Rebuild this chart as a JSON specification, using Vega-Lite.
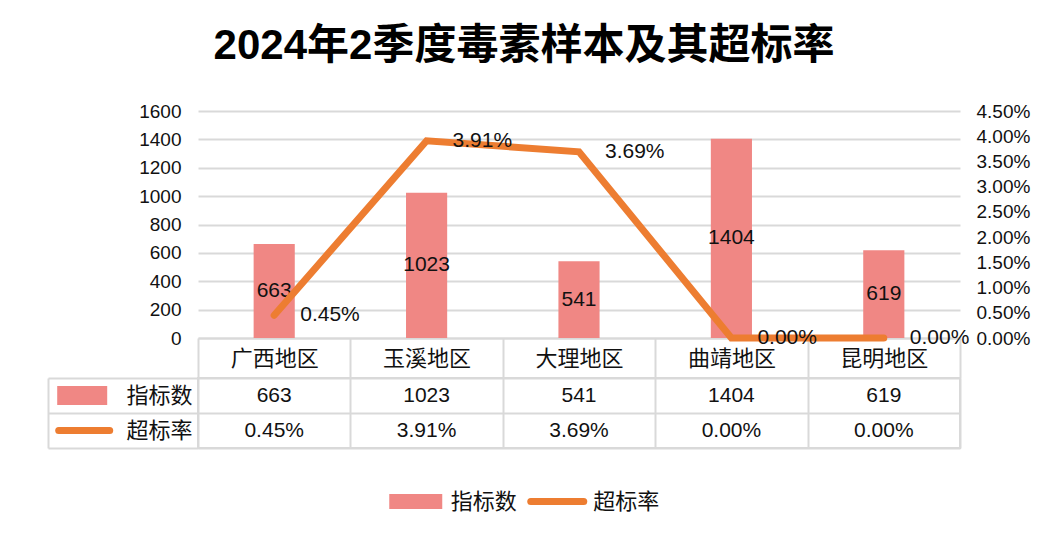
{
  "$schema": "https://vega.github.io/schema/vega-lite/v6.json",
  "background": "white",
  "padding": {"left": 43, "top": 25, "right": 10, "bottom": 10},
  "title": {
    "text": "2024年2季度毒素样本及其超标率",
    "fontSize": 42,
    "fontWeight": "bold",
    "font": "Liberation Sans, Noto Sans CJK SC",
    "color": "#000000",
    "anchor": "middle",
    "frame": "group",
    "dx": -55,
    "offset": 34
  },
  "config": {
    "view": {"stroke": null},
    "font": "Liberation Sans, Noto Sans CJK SC",
    "text": {"font": "Liberation Sans, Noto Sans CJK SC"}
  },
  "datasets": {
    "regions": [
      {"地区": "广西地区", "指标数": 663, "超标率": 0.0045},
      {"地区": "玉溪地区", "指标数": 1023, "超标率": 0.0391},
      {"地区": "大理地区", "指标数": 541, "超标率": 0.0369},
      {"地区": "曲靖地区", "指标数": 1404, "超标率": 0.0},
      {"地区": "昆明地区", "指标数": 619, "超标率": 0.0}
    ],
    "series": [{"系列": "指标数"}, {"系列": "超标率"}]
  },
  "bounds": "flush",
  "spacing": 40,
  "vconcat": [
    {
      "width": 762,
      "height": 227,
      "data": {"name": "regions"},
      "encoding": {
        "x": {
          "field": "地区",
          "type": "nominal",
          "sort": null,
          "scale": {"type": "band", "paddingInner": 0, "paddingOuter": 0},
          "axis": {
            "orient": "bottom",
            "title": null,
            "grid": false,
            "tickBand": "extent",
            "ticks": true,
            "tickSize": 40,
            "tickColor": "#d9d9d9",
            "tickWidth": 2,
            "domain": true,
            "domainColor": "#d9d9d9",
            "domainWidth": 2,
            "labelAngle": 0,
            "labelFontSize": 22,
            "labelColor": "#111111",
            "labelBaseline": "middle",
            "labelPadding": -20
          }
        }
      },
      "layer": [
        {
          "layer": [
            {
              "mark": {"type": "bar", "color": "#F08784", "width": {"band": 0.27}},
              "encoding": {
                "y": {
                  "field": "指标数",
                  "type": "quantitative",
                  "scale": {"domain": [0, 1600]},
                  "axis": {
                    "orient": "left",
                    "title": null,
                    "values": [0, 200, 400, 600, 800, 1000, 1200, 1400, 1600],
                    "format": "d",
                    "grid": true,
                    "gridColor": "#d9d9d9",
                    "gridWidth": 2,
                    "domain": false,
                    "ticks": false,
                    "labelFontSize": 19,
                    "labelColor": "#111111",
                    "labelPadding": 17,
                    "labelOverlap": false
                  }
                }
              }
            },
            {
              "mark": {"type": "text", "fontSize": 21, "baseline": "middle", "color": "#111111"},
              "encoding": {
                "y": {
                  "field": "指标数",
                  "type": "quantitative",
                  "scale": {"domain": [0, 3200]},
                  "axis": null
                },
                "text": {"field": "指标数", "type": "quantitative", "format": "d"}
              }
            }
          ],
          "resolve": {"scale": {"y": "independent"}}
        },
        {
          "encoding": {
            "y": {
              "field": "超标率",
              "type": "quantitative",
              "scale": {"domain": [0, 0.045]},
              "axis": {
                "orient": "right",
                "title": null,
                "values": [0, 0.005, 0.01, 0.015, 0.02, 0.025, 0.03, 0.035, 0.04, 0.045],
                "format": ".2%",
                "grid": false,
                "domain": false,
                "ticks": false,
                "labelFontSize": 19,
                "labelColor": "#111111",
                "labelPadding": 16,
                "labelOverlap": false
              }
            }
          },
          "layer": [
            {
              "mark": {"type": "line", "color": "#ED7D31", "strokeWidth": 7, "strokeCap": "round", "strokeJoin": "miter"}
            },
            {
              "mark": {"type": "text", "fontSize": 21, "align": "left", "baseline": "middle", "dx": 26, "color": "#111111"},
              "encoding": {
                "text": {"field": "超标率", "type": "quantitative", "format": ".2%"}
              }
            }
          ]
        }
      ],
      "resolve": {"scale": {"y": "independent"}}
    },
    {
      "width": 762,
      "height": 70,
      "view": {"stroke": "#d9d9d9", "strokeWidth": 2},
      "layer": [
        {
          "data": {"name": "regions"},
          "mark": {"type": "text", "fontSize": 21, "baseline": "middle", "color": "#111111"},
          "encoding": {
            "x": {
              "field": "地区",
              "type": "nominal",
              "sort": null,
              "scale": {"type": "band", "paddingInner": 0, "paddingOuter": 0},
              "axis": {
                "orient": "top",
                "title": null,
                "grid": true,
                "gridColor": "#d9d9d9",
                "gridWidth": 2,
                "tickBand": "extent",
                "labels": false,
                "ticks": false,
                "domain": false
              }
            },
            "y": {
              "datum": "指标数",
              "type": "nominal",
              "scale": {"type": "band", "domain": ["指标数", "超标率"], "paddingInner": 0, "paddingOuter": 0},
              "axis": {
                "orient": "left",
                "title": null,
                "offset": 150,
                "tickBand": "extent",
                "ticks": true,
                "tickSize": -150,
                "tickColor": "#d9d9d9",
                "tickWidth": 2,
                "domain": true,
                "domainColor": "#d9d9d9",
                "domainWidth": 2,
                "grid": true,
                "gridColor": "#d9d9d9",
                "gridWidth": 2,
                "labelFontSize": 22,
                "labelColor": "#111111",
                "labelAlign": "right",
                "labelBaseline": "middle",
                "labelPadding": 6
              }
            },
            "text": {"field": "指标数", "type": "quantitative", "format": "d"}
          }
        },
        {
          "data": {"name": "regions"},
          "mark": {"type": "text", "fontSize": 21, "baseline": "middle", "color": "#111111"},
          "encoding": {
            "x": {"field": "地区", "type": "nominal", "sort": null},
            "y": {"datum": "超标率", "type": "nominal"},
            "text": {"field": "超标率", "type": "quantitative", "format": ".2%"}
          }
        },
        {
          "data": {"name": "series"},
          "transform": [{"filter": {"field": "系列", "equal": "指标数"}}],
          "mark": {
            "type": "point",
            "shape": "M-1,-0.38H1V0.38H-1Z",
            "size": 2500,
            "filled": true,
            "opacity": 1,
            "color": "#F08784",
            "xOffset": -192
          },
          "encoding": {
            "x": {"datum": "广西地区", "type": "nominal"},
            "y": {"field": "系列", "type": "nominal"}
          }
        },
        {
          "data": {"name": "series"},
          "transform": [{"filter": {"field": "系列", "equal": "超标率"}}],
          "mark": {
            "type": "point",
            "shape": "M-1,0H1",
            "size": 2601,
            "filled": false,
            "opacity": 1,
            "stroke": "#ED7D31",
            "strokeWidth": 7,
            "strokeCap": "round",
            "xOffset": -190
          },
          "encoding": {
            "x": {"datum": "广西地区", "type": "nominal"},
            "y": {"field": "系列", "type": "nominal"}
          }
        }
      ]
    },
    {
      "width": 762,
      "height": 27,
      "data": {"name": "series"},
      "encoding": {
        "x": {
          "field": "系列",
          "type": "nominal",
          "sort": null,
          "scale": {"type": "band", "domain": ["指标数", "超标率"], "paddingInner": 0, "paddingOuter": 1},
          "axis": null
        }
      },
      "layer": [
        {
          "transform": [{"filter": {"field": "系列", "equal": "指标数"}}],
          "mark": {
            "type": "point",
            "shape": "M-1,-0.283H1V0.283H-1Z",
            "size": 2809,
            "filled": true,
            "opacity": 1,
            "color": "#F08784",
            "xOffset": -68
          }
        },
        {
          "transform": [{"filter": {"field": "系列", "equal": "指标数"}}],
          "mark": {"type": "text", "fontSize": 22, "align": "left", "baseline": "middle", "dx": -33, "color": "#111111"},
          "encoding": {"text": {"field": "系列", "type": "nominal"}}
        },
        {
          "transform": [{"filter": {"field": "系列", "equal": "超标率"}}],
          "mark": {
            "type": "point",
            "shape": "M-1,0H1",
            "size": 2809,
            "filled": false,
            "opacity": 1,
            "stroke": "#ED7D31",
            "strokeWidth": 7,
            "strokeCap": "round",
            "xOffset": -117
          }
        },
        {
          "transform": [{"filter": {"field": "系列", "equal": "超标率"}}],
          "mark": {"type": "text", "fontSize": 22, "align": "left", "baseline": "middle", "dx": -81, "color": "#111111"},
          "encoding": {"text": {"field": "系列", "type": "nominal"}}
        }
      ]
    }
  ]
}
